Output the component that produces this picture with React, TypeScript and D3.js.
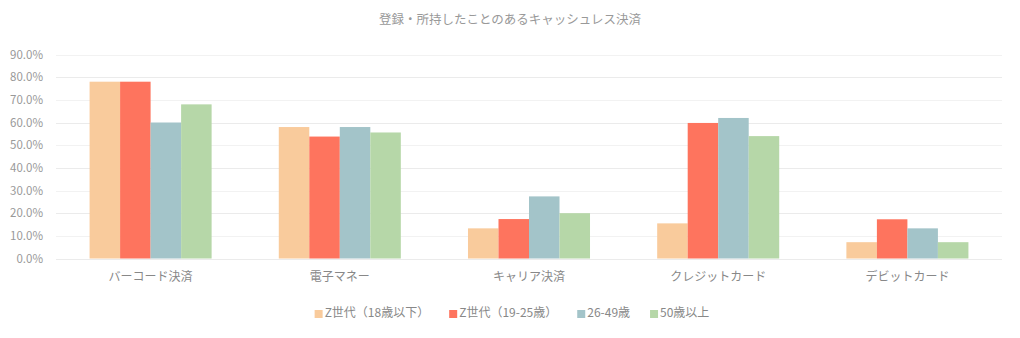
import React, { useEffect, useRef } from "react";
import * as d3 from "d3";

const categories = ["バーコード決済", "電子マネー", "キャリア決済", "クレジットカード", "デビットカード"];
const seriesNames = ["Z世代（18歳以下）", "Z世代（19-25歳）", "26-49歳", "50歳以上"];
const genZUnder18 = [78, 58, 13.3, 15.5, 7.2];
const genZ19to25 = [78, 53.8, 17.4, 59.8, 17.3];
const age26to49 = [60, 58, 27.4, 62, 13.3];
const age50plus = [68, 55.6, 20, 54, 7.2];
const yTicks = [0, 10, 20, 30, 40, 50, 60, 70, 80, 90];
const colors = ["#f9cb9c", "#fe745e", "#a3c4c9", "#b6d7a8"];
const title = "登録・所持したことのあるキャッシュレス決済";

const W = 1020;
const H = 338;
const FONT = "'Noto Sans CJK JP', 'Noto Sans', sans-serif";

export default function App() {
  const ref = useRef<SVGSVGElement>(null);
  useEffect(() => {
    const svg = d3.select(ref.current);
    svg.selectAll("*").remove();
    const series = [genZUnder18, genZ19to25, age26to49, age50plus];
    const left = 56, right = 1002, top = 54.5, bottom = 258.5;

    const x0 = d3.scaleBand<string>().domain(categories).range([left, right]).paddingInner(0.355).paddingOuter(0.1775);
    const x1 = d3.scaleBand<string>().domain(seriesNames).range([0, x0.bandwidth()]);
    const y = d3.scaleLinear().domain([0, 90]).range([bottom, top]);

    svg.append("text").attr("x", 510).attr("y", 24).attr("text-anchor", "middle")
      .attr("font-family", FONT).attr("font-size", 12.5).attr("fill", "#999").text(title);

    const grid = svg.append("g");
    grid.selectAll("line").data(yTicks).join("line")
      .attr("x1", left).attr("x2", right)
      .attr("y1", (d) => Math.round(y(d)) + 0.5).attr("y2", (d) => Math.round(y(d)) + 0.5)
      .attr("stroke", (d) => (d % 20 === 0 ? "#ebebeb" : "#f2f2f2")).attr("stroke-width", 1);

    svg.append("g").selectAll("text").data(yTicks).join("text")
      .attr("x", 43).attr("y", (d) => y(d)).attr("dy", "0.35em").attr("text-anchor", "end")
      .attr("font-family", FONT).attr("font-size", 11.5).attr("fill", "#999")
      .text((d) => d3.format(".1f")(d) + "%");

    const groups = svg.append("g").selectAll("g").data(categories).join("g")
      .attr("transform", (c) => `translate(${x0(c)},0)`);
    groups.selectAll("rect").data((c) => seriesNames.map((s, k) => ({ s, k, v: series[k][categories.indexOf(c)] })))
      .join("rect")
      .attr("x", (d) => x1(d.s)!).attr("width", x1.bandwidth())
      .attr("y", (d) => y(d.v)).attr("height", (d) => bottom - y(d.v))
      .attr("fill", (d) => colors[d.k]);

    svg.append("g").selectAll("text").data(categories).join("text")
      .attr("x", (c) => x0(c)! + x0.bandwidth() / 2).attr("y", 281).attr("text-anchor", "middle")
      .attr("font-family", FONT).attr("font-size", 12).attr("fill", "#888").text((c) => c);

    const legend = svg.append("g");
    const gap = 20;
    let cx = 0;
    seriesNames.forEach((s, k) => {
      const g = legend.append("g");
      g.append("rect").attr("x", 0).attr("y", -3).attr("width", 8).attr("height", 8).attr("fill", colors[k]);
      const t = g.append("text").attr("x", 10).attr("y", 0).attr("dy", "0.35em")
        .attr("font-family", FONT).attr("font-size", 12).attr("fill", "#888").text(s);
      const w = (t.node() as SVGTextElement).getComputedTextLength();
      g.attr("transform", `translate(${cx},0)`);
      cx += 10 + w + gap;
    });
    const total = cx - gap;
    legend.attr("transform", `translate(${512 - total / 2},${313})`);
  }, []);
  return (
    <svg ref={ref} width={W} height={H} style={{ position: "absolute", left: 0, top: 0, background: "#fff" }} />
  );
}
